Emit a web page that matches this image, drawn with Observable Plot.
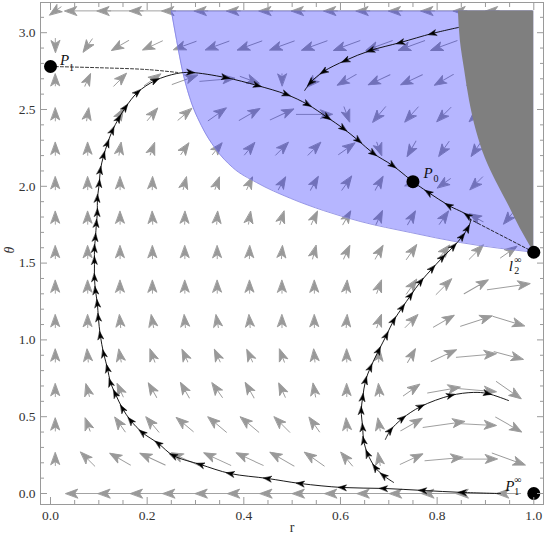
<!DOCTYPE html>
<html><head><meta charset="utf-8">
<script src="https://cdn.jsdelivr.net/npm/d3@7"></script>
<script src="https://cdn.jsdelivr.net/npm/@observablehq/plot@0.6"></script>
<style>body{margin:0;background:#fff} #chart{width:545px;height:543px}</style>
</head><body><div id="chart"></div>
<script>
// ---------- data ----------
const rGrid = [0.010,0.077,0.144,0.211,0.278,0.345,0.412,0.479,0.546,0.613,0.680,0.747,0.814,0.881,0.948];
const thetaGrid = [0,0.224,0.449,0.673,0.898,1.122,1.346,1.571,1.795,2.020,2.244,2.468,2.693,2.917,3.142];
// direction of each field arrow (degrees, counter-clockwise from +r), one row per theta
const fieldAngle = [
  [180,180,180,180,180,180,180,180,180,180,180,180,180,180,180],
  [90,135,150,155,155,155,155,150,145,130,100,25,5,0,-20],
  [90,110,125,130,140,140,140,135,125,95,100,30,8,-3,-30],
  [90,105,115,120,120,125,120,115,100,90,95,35,10,-5,-35],
  [90,95,100,110,115,115,115,110,95,90,85,60,25,5,-15],
  [90,90,95,100,95,100,95,90,90,85,70,45,30,18,-17],
  [90,90,90,90,90,90,90,90,90,85,70,55,45,30,8],
  [90,90,90,90,90,90,88,85,75,65,60,55,50,45,35],
  [90,90,90,92,88,85,80,72,65,60,65,60,55,150,230],
  [90,90,90,88,75,70,65,60,60,55,60,200,215,225,225],
  [90,90,80,70,55,50,50,45,45,35,-70,240,235,235,235],
  [90,80,60,50,40,35,30,25,0,-70,230,228,225,225,225],
  [90,65,45,35,20,5,-20,270,225,210,205,205,210,210,210],
  [270,235,210,205,200,200,200,200,200,200,200,200,200,200,200],
  [215,180,180,180,180,180,180,180,180,180,180,180,180,180,180]
];
// drawn length of each field arrow
const fieldLength = [
  [0,44,44,44,44,44,44,44,44,44,44,44,44,40,24],
  [13,20,24,28,30,30,30,28,24,18,13,25,38,42,35],
  [13,14,18,20,22,24,24,22,18,13,13,25,42,40,30],
  [13,13,15,17,18,18,18,16,14,13,13,20,33,40,30],
  [13,13,13,14,14,14,14,14,13,13,13,16,28,40,30],
  [13,13,13,13,13,13,13,13,13,13,14,18,24,33,33],
  [13,13,13,13,13,13,13,13,13,13,14,18,22,28,43],
  [13,13,13,13,13,13,13,13,14,15,16,18,18,20,20],
  [13,13,13,13,13,13,13,14,15,16,16,16,16,16,16],
  [13,13,13,13,13,13,14,15,16,17,16,14,16,18,18],
  [13,13,13,13,14,15,16,18,18,20,14,18,18,18,18],
  [13,13,14,16,18,22,24,26,36,16,20,20,20,20,20],
  [12,14,18,20,27,35,20,12,20,22,24,24,22,22,22],
  [14,16,20,22,24,25,26,26,27,28,28,28,28,28,28],
  [14,46,46,46,46,46,46,46,46,46,46,46,46,46,46]
];
// blue region: lower boundary theta(r), region reaches up to theta = pi
const blueR     = [0.250,0.261,0.273,0.290,0.312,0.341,0.377,0.426,0.497,0.565,0.641,0.745,0.848,1.000];
const blueTheta = [3.1416,2.949,2.754,2.559,2.396,2.246,2.122,2.025,1.921,1.842,1.771,1.699,1.634,1.5708];
// gray region: left boundary r(theta), region reaches r = 1
const grayTheta = [3.1416,2.949,2.754,2.559,2.363,2.181,2.038,1.888,1.725,1.5708];
const grayR     = [0.844,0.848,0.857,0.867,0.881,0.900,0.921,0.946,0.972,1.000];
// trajectories [r, theta, arrowhead?]
const traj1 = [[0.931,0.000,0],[0.852,0.007,1],[0.770,0.020,1],[0.689,0.033,1],[0.604,0.039,1],[0.517,0.065,1],[0.449,0.098,1],[0.372,0.130,1],[0.310,0.189,1],[0.254,0.247,1],[0.223,0.326,1],[0.190,0.397,1],[0.166,0.475,1],[0.149,0.553,1],[0.134,0.651,1],[0.124,0.723,1],[0.118,0.814,1],[0.110,0.911,1],[0.103,1.029,1],[0.099,1.146,1],[0.097,1.237,1],[0.093,1.322,1],[0.091,1.406,1],[0.091,1.517,1],[0.091,1.595,1],[0.093,1.667,1],[0.095,1.758,1],[0.097,1.829,1],[0.097,1.921,1],[0.101,2.018,1],[0.103,2.103,1],[0.110,2.201,1],[0.118,2.279,1],[0.128,2.363,1],[0.141,2.441,1],[0.155,2.513,1],[0.180,2.611,1],[0.217,2.689,1],[0.261,2.734,0],[0.290,2.741,1],[0.362,2.708,1],[0.428,2.656,1],[0.488,2.598,1],[0.532,2.533,1],[0.573,2.448,1],[0.606,2.376,1],[0.637,2.298,1],[0.668,2.214,1],[0.708,2.135,1],[0.749,2.031,0]];
const traj2 = [[0.844,3.034,0],[0.790,2.995,1],[0.724,2.936,1],[0.662,2.884,1],[0.610,2.819,1],[0.565,2.747,1],[0.538,2.676,1],[0.526,2.624,0]];
const traj3 = [[0.710,0.072,0],[0.689,0.117,1],[0.672,0.169,1],[0.656,0.260,1],[0.648,0.345,1],[0.646,0.430,1],[0.643,0.540,1],[0.646,0.625,1],[0.652,0.736,1],[0.662,0.820,1],[0.679,0.931,1],[0.695,1.029,1],[0.710,1.126,1],[0.728,1.211,1],[0.745,1.289,1],[0.766,1.380,1],[0.790,1.465,1],[0.811,1.536,1],[0.834,1.608,1],[0.852,1.673,1],[0.863,1.725,1],[0.869,1.777,0],[0.863,1.810,1],[0.824,1.875,1],[0.782,1.960,1],[0.749,2.031,0]];
const traj4 = [[0.693,0.352,0],[0.703,0.410,1],[0.728,0.488,1],[0.766,0.566,1],[0.828,0.638,1],[0.875,0.658,0],[0.904,0.651,1],[0.948,0.605,0]];
const dashedA = [[0,2.78],[0.1,2.772],[0.2,2.760],[0.263,2.741]];
const dashedB = [[1.0,1.5708],[0.869,1.784]];
// fixed points
const pointR = [0, 0.75, 1, 1];
const pointTheta = [2.78, 2.03, 1.5708, 0];
const labelBase = ["P","P","l","P"];
const labelSub  = ["1","0","2","1"];
const labelSup  = ["","","∞","∞"];
// ticks
const xMajor = [0,0.2,0.4,0.6,0.8,1.0];
const xTickLabels = ["0.0","0.2","0.4","0.6","0.8","1.0"];
const xMinor = [0.05,0.1,0.15,0.25,0.3,0.35,0.45,0.5,0.55,0.65,0.7,0.75,0.85,0.9,0.95];
const yMajor = [0,0.5,1,1.5,2,2.5,3];
const yTickLabels = ["0.0","0.5","1.0","1.5","2.0","2.5","3.0"];
const yMinor = [0.1,0.2,0.3,0.4,0.6,0.7,0.8,0.9,1.1,1.2,1.3,1.4,1.6,1.7,1.8,1.9,2.1,2.2,2.3,2.4,2.6,2.7,2.8,2.9,3.1];
const xTitle = "r", yTitle = "θ";

// ---------- layout ----------
const W = 545, H = 543, mL = 40, mR = 2, mT = 2, mB = 39;
const xDom = [-0.0207, 1.0201], yDom = [-0.0716, 3.1966];
const kx = (W - mL - mR) / (xDom[1] - xDom[0]);
const ky = (H - mT - mB) / (yDom[1] - yDom[0]);

const field = [];
thetaGrid.forEach((t, k) => rGrid.forEach((r, i) => {
  const L = fieldLength[k][i];
  if (L > 0) field.push({r, t, rot: 90 - fieldAngle[k][i], len: L});
}));

const fieldArrow = {draw(ctx, l) {
  const hl = 12, hw = 4.4, notch = 3;
  if (l > hl - notch) { ctx.moveTo(0, 0); ctx.lineTo(0, -(l - hl + notch)); }
  ctx.moveTo(0, -l); ctx.lineTo(hw, -l + hl); ctx.lineTo(0, -l + hl - notch); ctx.lineTo(-hw, -l + hl); ctx.closePath();
}};
const headShape = {draw(ctx, l) {
  const hw = 2.9, notch = 2.2;
  ctx.moveTo(0, -l); ctx.lineTo(hw, 0); ctx.lineTo(0, -notch); ctx.lineTo(-hw, 0); ctx.closePath();
}};

function heads(pts) {
  const out = [];
  for (let j = 1; j < pts.length - 1; j++) if (pts[j][2]) {
    const a = pts[j - 1], b = pts[j + 1];
    const dx = (b[0] - a[0]) * kx, dy = (b[1] - a[1]) * ky;
    out.push({r: pts[j][0], t: pts[j][1], rot: Math.atan2(dx, dy) * 180 / Math.PI});
  }
  return out;
}
const trajs = [traj1, traj2, traj3, traj4];
const allHeads = trajs.flatMap(heads);

const blueData = blueR.map((r, i) => ({r, t: blueTheta[i]}));
const grayData = grayTheta.map((t, i) => ({t, r: grayR[i]}));
const pts = pointR.map((r, i) => ({r, t: pointTheta[i]}));

const serif = "'Liberation Serif', 'DejaVu Serif', serif";
const frameColor = "#9a9a9a";

// label placement (pixel offsets from point)
const baseOff = [[14,-6],[15,-9],[-23,14],[-24,-7]];
const subOff  = [[21,1],[23,-3],[-17,19],[-17,-2]];
const supOff  = [[0,0],[0,0],[-16,8],[-16,-14]];
const labelMarks = [];
pts.forEach((p, i) => {
  labelMarks.push(Plot.text([p], {x: "r", y: "t", text: () => labelBase[i], dx: baseOff[i][0], dy: baseOff[i][1], fontFamily: serif, fontStyle: "italic", fontSize: 15, fill: "#111"}));
  labelMarks.push(Plot.text([p], {x: "r", y: "t", text: () => labelSub[i], dx: subOff[i][0], dy: subOff[i][1], fontFamily: serif, fontSize: 10, fill: "#111"}));
  if (labelSup[i]) labelMarks.push(Plot.text([p], {x: "r", y: "t", text: () => labelSup[i], dx: supOff[i][0], dy: supOff[i][1], fontFamily: serif, fontSize: 10, fill: "#111"}));
});

const tickOpts = {label: null, stroke: frameColor, tickFormat: () => ""};
const chart = Plot.plot({
  width: W, height: H,
  marginLeft: mL, marginRight: mR, marginTop: mT, marginBottom: mB,
  x: {domain: xDom, label: null},
  y: {domain: yDom, label: null},
  length: {type: "identity"},
  style: {background: "white", fontFamily: serif},
  marks: [
    Plot.vector(field, {x: "r", y: "t", rotate: "rot", length: "len", anchor: "middle", shape: fieldArrow, stroke: "#999", fill: "#999", strokeWidth: 0.9}),
    Plot.areaY(blueData, {x: "r", y1: "t", y2: () => Math.PI, fill: "#2020ff", fillOpacity: 0.33, curve: "monotone-x"}),
    Plot.line(blueData, {x: "r", y: "t", stroke: "#8080e0", strokeWidth: 0.8, curve: "monotone-x"}),
    Plot.areaX(grayData, {y: "t", x1: "r", x2: () => 1, fill: "#7f7f7f", curve: "monotone-y"}),
    Plot.line(dashedA, {x: d => d[0], y: d => d[1], stroke: "#000", strokeWidth: 0.8, strokeDasharray: "3,2", curve: "catmull-rom"}),
    Plot.line(dashedB, {x: d => d[0], y: d => d[1], stroke: "#000", strokeWidth: 0.8, strokeDasharray: "3,2"}),
    ...trajs.map(tr => Plot.line(tr, {x: d => d[0], y: d => d[1], stroke: "#000", strokeWidth: 0.9, curve: "catmull-rom"})),
    Plot.vector(allHeads, {x: "r", y: "t", rotate: "rot", length: 8, anchor: "middle", shape: headShape, fill: "#000", stroke: "#000", strokeWidth: 0.5}),
    Plot.dot(pts, {x: "r", y: "t", r: 6.5, fill: "#000", stroke: "none"}),
    ...labelMarks,
    Plot.frame({stroke: frameColor}),
    Plot.axisX({...tickOpts, anchor: "bottom", ticks: xMajor, tickSize: -7}),
    Plot.axisX({...tickOpts, anchor: "bottom", ticks: xMinor, tickSize: -4}),
    Plot.axisX({...tickOpts, anchor: "top", ticks: xMajor, tickSize: -7}),
    Plot.axisX({...tickOpts, anchor: "top", ticks: xMinor, tickSize: -4}),
    Plot.axisY({...tickOpts, anchor: "left", ticks: yMajor, tickSize: -7}),
    Plot.axisY({...tickOpts, anchor: "left", ticks: yMinor, tickSize: -4}),
    Plot.axisY({...tickOpts, anchor: "right", ticks: yMajor, tickSize: -7}),
    Plot.axisY({...tickOpts, anchor: "right", ticks: yMinor, tickSize: -4}),
    Plot.axisX({anchor: "bottom", ticks: xMajor, tickSize: 0, tickPadding: 6, label: null, tickFormat: d => xTickLabels[xMajor.indexOf(d)], fontSize: 13.5, fontFamily: serif, fill: "#333"}),
    Plot.axisY({anchor: "left", ticks: yMajor, tickSize: 0, tickPadding: 5, label: null, tickFormat: d => yTickLabels[yMajor.indexOf(d)], fontSize: 13.5, fontFamily: serif, fill: "#333"}),
    Plot.text([xTitle], {frameAnchor: "bottom", dy: 27, text: d => d, fontSize: 14, fontFamily: serif, fill: "#333"}),
    Plot.text([yTitle], {frameAnchor: "left", dx: -31, rotate: -90, text: d => d, fontSize: 14, fontFamily: serif, fontStyle: "italic", fill: "#333"})
  ]
});
document.getElementById("chart").appendChild(chart);
</script>
</body></html>
